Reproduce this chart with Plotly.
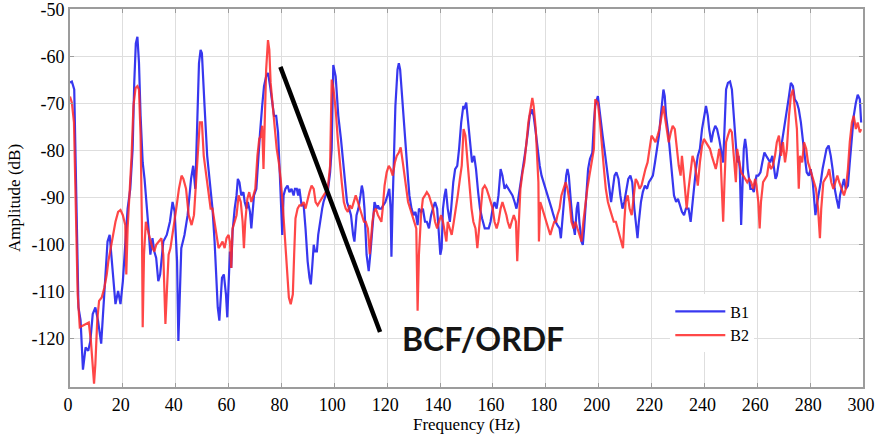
import plotly.graph_objects as go

# ---------------- data ----------------
b1_freq = [0.0,0.7,1.6,2.5,3.2,4.0,4.9,5.9,6.9,7.7,8.6,9.6,10.6,11.8,12.6,13.5,14.2,15.0,15.7,16.6,17.2,18.2,19.1,20.0,20.9,21.8,22.8,23.7,24.3,24.9,25.5,26.1,26.7,27.5,28.2,29.0,29.7,30.4,31.2,31.9,32.6,33.4,34.1,35.3,36.6,37.8,38.8,39.6,40.5,41.0,41.5,42.1,43.3,44.5,45.8,46.6,47.4,48.2,48.8,49.4,
           49.9,50.9,51.9,52.9,53.9,54.7,55.4,55.9,56.5,57.0,57.5,58.2,59.0,59.5,60.0,60.5,61.0,61.5,62.3,63.0,63.5,64.1,64.8,65.6,66.1,66.8,67.3,68.1,68.6,69.0,69.6,70.5,71.1,71.9,72.7,73.4,74.2,74.9,75.7,76.5,77.2,78.0,78.7,79.2,79.7,80.3,80.8,81.5,82.3,83.0,83.8,84.6,85.1,85.8,86.3,86.8,87.6,88.4,89.1,89.9,90.6,91.1,91.6,92.2,92.7,93.4,93.9,94.7,95.4,95.9,96.7,97.5,98.4,99.0,
           99.6,100.5,101.5,102.5,103.3,104.1,104.8,105.6,106.3,107.1,107.6,108.4,109.1,109.9,110.4,110.9,111.4,112.2,113.0,113.7,114.5,115.2,116.0,116.5,117.0,117.8,118.5,119.3,120.1,120.8,121.3,121.6,122.0,122.6,123.1,123.9,124.4,124.9,125.7,126.4,127.2,127.9,128.4,129.2,130.0,130.7,131.5,132.0,132.8,133.5,134.3,135.0,135.8,136.6,137.3,138.1,138.9,139.6,140.1,140.6,141.1,141.7,142.2,142.9,143.7,144.2,145.0,145.7,146.5,147.2,148.0,148.8,
           149.1,149.9,150.6,151.4,152.1,152.9,153.6,154.4,155.1,155.9,156.9,157.6,158.4,159.1,159.9,160.6,161.4,162.1,162.9,163.6,164.4,165.1,165.9,166.6,167.4,168.2,168.9,169.4,170.2,170.9,171.7,172.4,173.2,173.9,174.7,175.4,176.2,176.9,177.7,178.4,179.2,179.9,180.7,181.4,182.2,182.9,183.7,184.4,185.2,185.7,186.2,187.0,187.7,188.2,188.7,189.5,190.2,191.0,191.7,192.2,192.7,193.5,194.0,194.5,195.2,196.0,196.7,197.6,198.2,
           198.7,199.7,200.5,201.5,202.5,203.2,204.0,204.7,205.5,206.0,206.7,207.5,208.2,209.0,209.7,210.5,211.2,212.0,212.7,213.5,214.2,214.7,215.2,216.0,216.7,217.5,218.3,219.0,219.8,220.5,221.3,222.0,222.8,223.5,224.0,224.5,225.0,225.5,226.3,227.0,227.8,228.5,229.3,230.0,230.8,231.5,232.3,233.0,234.0,234.8,235.3,236.0,236.8,237.5,238.3,239.1,239.8,240.6,241.3,241.8,242.6,243.3,244.1,244.8,245.6,246.3,247.1,247.8,
           248.2,248.9,249.7,250.4,250.9,251.4,251.9,252.4,252.9,253.4,253.9,254.4,254.9,255.4,255.9,256.4,256.9,257.4,258.2,258.7,259.2,259.7,260.4,261.2,261.9,262.7,263.4,264.2,264.9,265.7,266.4,266.9,267.4,268.2,268.9,269.7,270.5,271.2,272.0,272.7,273.5,274.2,275.0,275.7,276.5,277.2,278.0,278.7,279.5,280.2,281.0,281.5,282.0,282.5,283.2,284.0,284.7,285.5,286.2,287.0,287.8,288.5,289.3,290.0,290.8,291.3,292.0,292.8,293.5,294.3,295.0,295.8,296.5,297.3,298.0,298.8,299.3]
b1_amp = [-65.5,-65.3,-67.0,-95.0,-113.3,-116.0,-126.5,-121.8,-122.5,-120.4,-114.7,-113.3,-116.1,-121.0,-113.3,-104.9,-99.3,-97.9,-102.1,-109.1,-112.6,-109.8,-112.6,-107.7,-100.7,-92.3,-88.1,-79.6,-65.6,-57.2,-55.8,-61.4,-72.6,-82.5,-86.0,-90.9,-96.5,-102.1,-98.6,-101.4,-102.8,-107.7,-106.3,-99.3,-97.9,-95.1,-90.9,-93.0,-103.5,-120.4,-109.1,-100.7,-97.9,-93.7,-86.0,-83.2,-88.1,-74.0,-61.4,-58.6,
          -59.3,-70.5,-81.1,-86.7,-92.3,-99.3,-108.4,-113.3,-116.1,-110.5,-107.0,-106.3,-110.5,-115.4,-108.3,-101.4,-104.9,-97.2,-92.3,-89.5,-86.0,-86.7,-89.5,-88.8,-90.9,-92.3,-90.9,-93.0,-96.5,-93.7,-89.5,-88.1,-82.5,-76.1,-70.5,-66.3,-64.2,-63.5,-66.3,-69.8,-72.6,-72.6,-76.1,-82.5,-89.5,-97.9,-89.5,-88.1,-87.4,-88.8,-88.1,-89.5,-88.1,-88.1,-89.5,-88.1,-91.6,-91.6,-96.5,-103.5,-107.0,-108.4,-104.9,-100.0,-101.4,-101.4,-97.9,-94.4,-92.3,-90.9,-89.5,-88.8,-84.6,-79.6,
          -61.8,-64.2,-72.6,-77.5,-82.5,-88.1,-90.9,-92.3,-93.7,-97.9,-99.3,-93.7,-92.3,-89.5,-87.4,-88.8,-92.3,-102.1,-105.6,-101.4,-95.1,-90.9,-92.3,-91.6,-92.3,-92.3,-91.6,-90.9,-89.5,-88.1,-92.3,-102.5,-92.3,-81.1,-70.5,-62.8,-61.4,-62.8,-69.1,-76.1,-81.1,-86.0,-89.5,-92.3,-93.7,-93.0,-95.8,-92.3,-93.0,-92.3,-95.1,-95.1,-96.5,-93.7,-92.3,-90.9,-92.3,-97.9,-102.1,-100.7,-92.3,-89.5,-88.1,-92.3,-95.1,-92.3,-86.7,-83.9,-83.2,-79.6,-74.0,-70.5,
          -71.2,-69.8,-74.0,-79.6,-82.5,-81.1,-83.9,-88.8,-92.3,-94.4,-96.5,-96.5,-96.5,-95.1,-92.3,-90.9,-92.3,-89.5,-83.9,-85.3,-88.1,-87.4,-88.1,-88.8,-89.5,-90.9,-92.3,-90.9,-88.1,-85.3,-82.5,-79.6,-76.1,-72.6,-71.2,-72.6,-76.1,-79.6,-83.2,-85.3,-86.7,-88.1,-89.5,-90.9,-92.3,-93.7,-95.1,-95.8,-96.5,-98.6,-95.1,-89.5,-85.3,-83.9,-85.3,-90.9,-95.1,-97.9,-92.3,-90.9,-95.1,-99.3,-100.0,-96.5,-90.9,-83.9,-81.8,-80.4,-74.0,
          -70.5,-68.4,-72.6,-76.8,-81.1,-83.9,-88.1,-90.9,-87.4,-85.3,-84.6,-86.0,-89.5,-92.3,-90.9,-88.1,-86.0,-85.3,-86.7,-92.3,-96.5,-98.6,-95.1,-90.9,-88.8,-87.4,-88.1,-86.7,-86.0,-85.3,-82.5,-79.6,-76.8,-72.6,-69.1,-67.0,-68.4,-72.6,-76.1,-81.1,-85.3,-89.5,-90.9,-90.2,-91.6,-93.0,-93.7,-92.3,-92.3,-95.1,-92.3,-88.1,-83.9,-81.1,-79.6,-75.4,-72.6,-70.5,-72.6,-75.4,-78.2,-76.1,-74.7,-75.4,-77.5,-79.6,-82.5,-72.6,
          -67.0,-65.6,-65.3,-67.0,-71.2,-76.1,-80.4,-82.5,-81.1,-83.9,-95.8,-88.1,-79.6,-77.5,-79.6,-83.9,-86.7,-88.1,-88.1,-88.8,-86.7,-85.3,-85.3,-84.6,-82.5,-80.4,-81.1,-81.8,-82.5,-81.1,-83.9,-86.0,-85.3,-82.5,-79.6,-76.8,-74.0,-71.2,-68.4,-65.6,-66.3,-69.1,-69.8,-71.2,-74.0,-77.5,-81.1,-84.6,-85.3,-83.9,-86.7,-90.9,-93.7,-91.6,-89.5,-86.7,-83.9,-81.1,-79.6,-78.9,-81.1,-83.9,-88.1,-90.2,-92.3,-89.5,-88.1,-86.0,-88.1,-87.4,-82.5,-76.8,-72.6,-69.8,-68.1,-69.1,-74.0]

b2_freq = [0.0,0.7,1.5,2.2,2.9,3.7,4.7,5.9,7.1,7.9,8.6,9.1,9.6,10.3,11.0,12.0,13.0,13.9,14.5,15.5,16.3,17.2,18.2,19.1,20.0,20.9,21.3,21.8,22.6,23.3,24.0,24.8,25.5,26.1,26.7,27.2,27.5,28.0,28.7,29.4,30.2,31.2,31.9,32.6,33.6,34.6,35.3,36.1,36.6,37.3,38.0,38.8,39.5,40.2,41.2,42.2,42.9,43.9,44.9,46.0,46.9,47.6,48.3,49.1,
           49.9,50.6,51.4,52.2,53.2,53.9,54.7,55.4,56.2,57.0,57.7,58.5,59.2,60.0,60.5,61.0,61.5,62.3,63.0,63.8,64.6,65.3,65.8,66.3,67.1,67.8,68.6,69.4,70.1,70.9,71.6,72.2,72.7,73.2,73.7,74.2,74.9,75.4,75.9,76.7,77.5,78.2,79.0,79.7,80.5,81.3,82.0,82.8,83.5,84.3,84.8,85.3,86.1,86.8,87.6,88.4,89.1,89.9,90.6,91.4,92.2,92.9,93.7,94.4,95.2,95.9,96.7,97.5,98.4,
           99.0,99.7,100.5,101.3,102.0,102.8,103.6,104.3,105.1,105.8,106.6,107.4,108.1,108.9,109.6,110.4,111.2,111.9,112.7,113.4,113.9,114.4,115.0,115.7,116.5,117.0,117.8,118.3,119.0,119.8,120.6,121.3,122.1,122.9,123.6,124.4,125.1,125.9,126.7,127.4,127.9,128.7,129.5,130.2,131.0,131.5,132.0,132.8,133.5,134.3,135.0,135.8,136.6,137.3,138.1,138.9,139.6,140.4,141.1,141.9,142.4,142.9,143.7,144.4,145.2,146.0,146.7,147.5,148.2,
           148.9,149.6,150.4,151.1,151.9,152.6,153.4,154.1,154.6,155.4,156.1,156.9,157.6,158.4,159.1,159.9,160.6,161.4,162.1,162.9,163.6,164.4,165.1,165.6,166.4,167.1,167.9,168.7,169.2,169.7,170.4,171.2,171.9,172.7,173.4,174.2,174.9,175.4,176.2,176.7,177.2,177.4,177.9,178.7,179.4,180.2,180.9,181.7,182.4,183.2,183.9,184.4,185.2,185.9,186.7,187.5,188.2,189.0,189.7,190.5,191.2,192.0,192.7,193.5,194.2,195.0,195.7,196.5,197.2,198.2,
           198.7,199.7,200.5,201.2,202.0,202.7,203.5,204.2,205.0,205.7,206.5,207.2,208.0,208.7,209.2,209.7,210.2,211.0,211.7,212.5,213.2,214.0,214.7,215.5,216.2,217.0,217.7,218.5,219.3,220.0,220.8,221.5,222.3,223.0,223.8,224.5,225.0,225.8,226.5,227.3,228.0,228.8,229.5,230.3,231.0,231.5,232.0,232.8,233.3,234.0,234.8,235.5,236.3,237.0,237.5,238.3,239.1,239.8,240.6,241.3,242.1,242.8,243.6,244.3,244.8,245.6,246.1,246.6,247.1,247.6,
           248.2,248.9,249.7,250.4,250.9,251.4,251.9,252.4,252.9,253.4,253.9,254.7,255.4,256.2,256.9,257.7,258.4,259.2,259.7,260.4,260.9,261.4,262.2,262.9,263.7,264.4,265.2,265.9,266.7,267.4,268.2,269.0,269.7,270.5,271.2,272.0,272.7,273.5,274.0,274.5,275.0,275.7,276.2,277.0,277.7,278.5,279.2,280.0,280.7,281.5,282.2,283.0,283.7,284.2,285.0,285.7,286.5,287.2,288.0,288.8,289.5,290.3,291.0,292.0,292.8,293.5,294.3,295.0,295.8,296.5,297.3,298.0,298.8,299.3]
b2_amp = [-68.5,-69.8,-74.0,-91.6,-110.5,-117.5,-117.2,-116.8,-116.5,-120.4,-126.7,-129.5,-125.3,-116.1,-111.9,-111.2,-109.1,-106.3,-103.5,-100.7,-97.9,-95.1,-93.0,-92.6,-93.7,-95.8,-106.3,-96.5,-88.1,-81.1,-70.5,-66.7,-66.3,-67.0,-76.8,-95.1,-117.5,-102.1,-95.1,-96.5,-98.6,-100.7,-101.4,-100.0,-99.3,-98.6,-102.1,-116.8,-110.5,-102.1,-100.7,-97.9,-95.1,-92.3,-88.1,-85.3,-86.0,-88.1,-93.7,-95.8,-93.7,-86.7,-79.6,-74.0,
          -74.0,-81.1,-84.6,-88.1,-92.3,-92.3,-95.1,-97.9,-100.7,-100.0,-99.3,-100.7,-98.6,-97.9,-99.3,-104.9,-96.5,-95.1,-93.7,-89.5,-90.9,-95.1,-100.7,-95.1,-90.2,-88.8,-90.9,-89.5,-88.1,-81.1,-77.5,-76.8,-74.7,-83.9,-75.4,-62.8,-56.5,-58.6,-65.6,-70.5,-76.1,-79.6,-82.5,-86.0,-91.6,-98.6,-105.6,-111.2,-112.6,-110.5,-102.1,-94.4,-92.3,-91.6,-91.6,-90.9,-92.3,-90.2,-88.8,-87.4,-88.1,-90.9,-91.6,-90.9,-90.2,-89.5,-88.8,-88.1,-83.2,
          -64.9,-67.0,-71.2,-77.5,-82.5,-86.7,-90.9,-92.3,-93.0,-91.6,-92.3,-90.9,-89.5,-90.9,-92.3,-93.7,-95.1,-95.1,-96.5,-102.0,-97.9,-95.1,-93.0,-92.3,-93.7,-94.4,-95.1,-92.3,-87.4,-84.6,-83.2,-83.9,-85.3,-82.5,-81.1,-80.4,-79.3,-82.5,-86.0,-88.1,-90.9,-92.3,-93.7,-95.1,-96.5,-114.0,-102.1,-93.7,-90.2,-89.5,-88.8,-89.5,-90.9,-92.3,-95.1,-96.5,-95.1,-93.7,-95.1,-97.9,-99.3,-95.1,-96.5,-97.9,-95.1,-92.3,-89.5,-86.0,-83.2,
          -75.4,-76.8,-82.5,-88.1,-92.3,-95.1,-96.5,-100.7,-97.9,-92.3,-88.1,-87.4,-88.1,-89.5,-90.9,-92.3,-95.1,-96.5,-95.1,-92.3,-90.9,-92.3,-93.7,-95.1,-96.5,-95.1,-93.7,-95.1,-103.5,-96.5,-88.1,-84.6,-82.5,-78.2,-74.0,-71.2,-68.8,-70.5,-75.4,-81.1,-86.7,-99.3,-90.9,-92.3,-93.7,-95.1,-96.5,-97.9,-96.5,-95.1,-95.1,-93.7,-92.3,-89.5,-88.1,-86.7,-88.1,-90.9,-95.1,-96.5,-95.1,-96.5,-97.9,-99.3,-95.1,-90.9,-88.1,-85.3,-83.2,-79.6,
          -69.1,-69.8,-74.0,-79.6,-83.9,-88.1,-90.9,-92.3,-93.7,-95.1,-95.1,-96.5,-97.9,-99.3,-100.7,-95.1,-90.9,-89.5,-92.3,-93.7,-89.5,-86.0,-86.7,-88.1,-87.4,-85.3,-83.9,-82.5,-79.6,-76.8,-77.5,-78.2,-76.8,-75.4,-72.6,-70.5,-72.6,-76.1,-78.2,-76.1,-74.7,-75.4,-79.6,-83.2,-85.3,-81.1,-83.9,-89.5,-92.3,-88.1,-83.9,-81.1,-82.5,-85.3,-87.4,-82.5,-79.0,-77.5,-78.2,-79.0,-79.6,-81.1,-82.5,-83.9,-82.5,-79.6,-81.1,-88.1,-95.1,-86.7,
          -78.2,-76.8,-75.4,-76.1,-79.6,-82.5,-86.7,-79.6,-81.1,-82.5,-84.6,-85.3,-86.0,-86.7,-86.0,-86.7,-88.1,-86.0,-87.4,-90.9,-96.5,-90.9,-86.7,-86.0,-85.3,-82.5,-83.9,-83.2,-81.1,-78.2,-76.8,-81.1,-78.2,-82.5,-79.6,-72.6,-68.4,-67.0,-69.8,-74.0,-75.4,-88.1,-81.1,-82.5,-78.2,-79.6,-82.5,-83.9,-85.3,-86.7,-88.1,-92.3,-98.6,-92.3,-86.7,-86.0,-85.3,-83.9,-86.7,-88.1,-86.7,-85.3,-86.7,-88.1,-89.5,-88.1,-83.9,-78.2,-74.0,-72.6,-75.4,-74.0,-76.1,-75.4]

x_tick_vals = [0, 20, 40, 60, 80, 100, 120, 140, 160, 180, 200, 220, 240, 260, 280, 300]
y_tick_vals = [-50, -60, -70, -80, -90, -100, -110, -120]
y_tick_text = ["-50", "-60", "-70", "-80", "-90", "-100", "-110", "-120"]

series_names = ["B1", "B2"]
note_text = "BCF/ORDF"
note_line_start = (79.6, -62.2)
note_line_end = (117.3, -118.5)
note_text_pos = (156.4, -120.0)

# ---------------- figure ----------------
serif = "Liberation Serif"
fig = go.Figure()
fig.add_trace(go.Scatter(x=b1_freq, y=b1_amp, mode="lines", name=series_names[0],
                         line=dict(color="#2222ee", width=2.2), opacity=0.9))
fig.add_trace(go.Scatter(x=b2_freq, y=b2_amp, mode="lines", name=series_names[1],
                         line=dict(color="#ff2828", width=2.2), opacity=0.85))

fig.add_shape(type="line", xref="x", yref="y",
              x0=note_line_start[0], y0=note_line_start[1],
              x1=note_line_end[0], y1=note_line_end[1],
              line=dict(color="black", width=4.5))
fig.add_annotation(x=note_text_pos[0], y=note_text_pos[1], xref="x", yref="y",
                   text="<b>" + note_text + "</b>", showarrow=False,
                   font=dict(family="Lato", size=32, color="#151515"))

axis_common = dict(showgrid=True, gridcolor="#dedede", gridwidth=1,
                   showline=True, linecolor="#9c9c9c", linewidth=2, mirror="ticks",
                   ticks="inside", ticklen=4, tickcolor="#9c9c9c",
                   tickfont=dict(family=serif, size=18, color="black"),
                   ticklabeloverflow="allow",
                   zeroline=False)

fig.update_xaxes(range=[0, 300], tickvals=x_tick_vals, ticklabelshift=-2,
                 title=dict(text="Frequency (Hz)", font=dict(family=serif, size=17, color="black"), standoff=4),
                 **axis_common)
fig.update_yaxes(range=[-130.2, -49.9], tickvals=y_tick_vals, ticktext=y_tick_text,
                 title=dict(text="Amplitude (dB)", font=dict(family=serif, size=17, color="black"), standoff=6),
                 **axis_common)

fig.update_layout(
    width=875, height=435,
    margin=dict(l=70, r=12, t=9, b=48, autoexpand=False),
    paper_bgcolor="white", plot_bgcolor="white",
    showlegend=True,
    legend=dict(x=0.757, y=0.245, xanchor="left", yanchor="top",
                bgcolor="white", borderwidth=0, itemwidth=50,
                font=dict(family=serif, size=16, color="black"),
                tracegroupgap=0),
)

fig.write_html("out.html")
